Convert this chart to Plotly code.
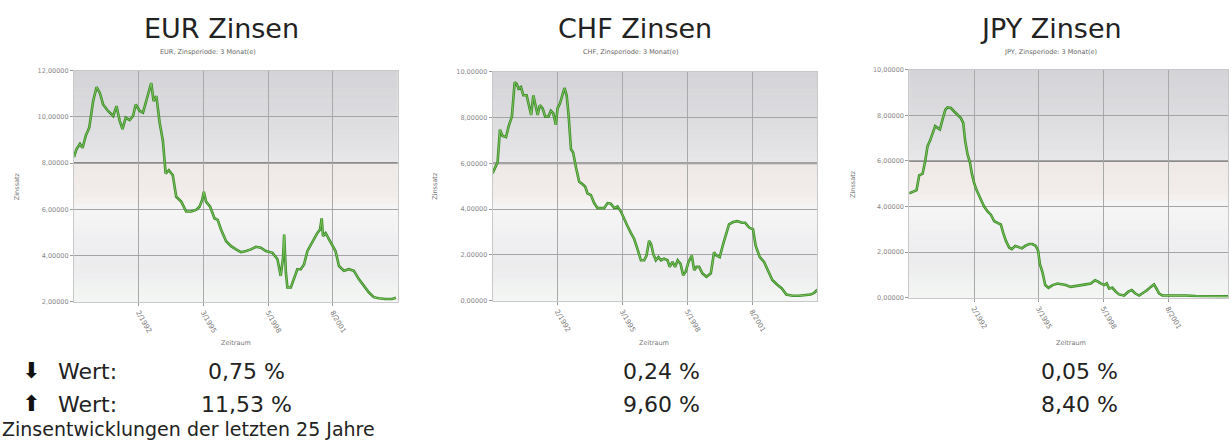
import plotly.graph_objects as go

W, H = 1229, 443

# ---------------- data ----------------
eur_t = [1989.00, 1989.12, 1989.28, 1989.40, 1989.55, 1989.71, 1989.89, 1990.05, 1990.20, 1990.35,
         1990.58, 1990.82, 1990.97, 1991.12, 1991.25, 1991.40, 1991.58, 1991.74, 1991.86, 1992.05,
         1992.20, 1992.38, 1992.58, 1992.69, 1992.82, 1992.97, 1993.12, 1993.25, 1993.40, 1993.58,
         1993.74, 1993.97, 1994.20, 1994.43, 1994.66, 1994.82, 1994.94, 1995.02, 1995.12, 1995.31,
         1995.51, 1995.66, 1995.82, 1996.05, 1996.28, 1996.51, 1996.74, 1996.97, 1997.20, 1997.43,
         1997.66, 1997.89, 1998.20, 1998.43, 1998.58, 1998.69, 1998.74, 1998.82, 1998.89, 1999.05,
         1999.20, 1999.35, 1999.51, 1999.66, 1999.82, 2000.05, 2000.28, 2000.40, 2000.48, 2000.54,
         2000.66, 2000.82, 2000.97, 2001.12, 2001.28, 2001.51, 2001.74, 2001.97, 2002.20, 2002.43,
         2002.66, 2002.89, 2003.12, 2003.43, 2003.74, 2003.92]
eur_v = [8.26, 8.61, 8.83, 8.66, 9.19, 9.54, 10.69, 11.29, 11.04, 10.54,
         10.26, 10.04, 10.47, 9.83, 9.47, 9.97, 9.86, 10.04, 10.54, 10.26,
         10.19, 10.76, 11.47, 10.69, 10.90, 9.76, 8.97, 7.54, 7.69, 7.47,
         6.54, 6.33, 5.90, 5.90, 5.97, 6.11, 6.40, 6.76, 6.33, 6.11,
         5.61, 5.54, 5.11, 4.61, 4.40, 4.26, 4.14, 4.19, 4.26, 4.37,
         4.33, 4.19, 4.11, 3.83, 3.11, 3.90, 4.90, 3.26, 2.61, 2.61,
         2.97, 3.40, 3.40, 3.61, 4.19, 4.61, 4.97, 5.11, 5.61, 4.83,
         4.97, 4.69, 4.47, 4.19, 3.54, 3.33, 3.40, 3.33, 2.97, 2.69,
         2.40, 2.19, 2.14, 2.11, 2.11, 2.16]

chf_t = [1989.00, 1989.12, 1989.23, 1989.34, 1989.46, 1989.62, 1989.74, 1989.89, 1990.02, 1990.11,
         1990.20, 1990.31, 1990.42, 1990.57, 1990.69, 1990.78, 1990.88, 1990.97, 1991.08, 1991.18,
         1991.31, 1991.43, 1991.58, 1991.69, 1991.80, 1991.92, 1992.00, 1992.11, 1992.23, 1992.32,
         1992.42, 1992.51, 1992.62, 1992.72, 1992.85, 1993.00, 1993.12, 1993.28, 1993.38, 1993.54,
         1993.69, 1993.85, 1994.00, 1994.15, 1994.31, 1994.46, 1994.62, 1994.77, 1994.92, 1995.08,
         1995.23, 1995.38, 1995.54, 1995.69, 1995.85, 1996.00, 1996.11, 1996.23, 1996.32, 1996.42,
         1996.54, 1996.66, 1996.78, 1996.92, 1997.08, 1997.18, 1997.31, 1997.43, 1997.55, 1997.68,
         1997.80, 1997.92, 1998.05, 1998.20, 1998.31, 1998.42, 1998.54, 1998.69, 1998.88, 1999.08,
         1999.23, 1999.34, 1999.49, 1999.65, 1999.80, 1999.92, 2000.11, 2000.31, 2000.51, 2000.66,
         2000.85, 2001.03, 2001.15, 2001.34, 2001.54, 2001.74, 2001.92, 2002.15, 2002.35, 2002.57,
         2002.85, 2003.15, 2003.46, 2003.69, 2003.85, 2004.00]
chf_v = [5.57, 5.83, 6.04, 7.47, 7.19, 7.14, 7.61, 8.04, 9.54, 9.47,
         9.26, 9.33, 8.97, 8.97, 8.54, 8.11, 8.97, 8.61, 8.11, 8.54,
         8.40, 8.04, 8.04, 8.29, 8.19, 7.69, 8.40, 8.61, 8.97, 9.29,
         8.97, 8.11, 6.61, 6.47, 5.83, 5.19, 5.11, 4.97, 4.69, 4.61,
         4.26, 4.04, 4.04, 4.04, 4.26, 4.23, 4.04, 4.11, 3.90, 3.54,
         3.26, 2.97, 2.69, 2.26, 1.76, 1.76, 1.97, 2.61, 2.47, 2.04,
         1.76, 1.90, 1.76, 1.83, 1.76, 1.47, 1.69, 1.47, 1.76, 1.61,
         1.11, 1.26, 1.69, 1.97, 1.33, 1.47, 1.47, 1.19, 1.04, 1.19,
         2.11, 1.97, 1.90, 2.47, 2.97, 3.33, 3.43, 3.47, 3.40, 3.40,
         3.19, 3.11, 2.40, 1.90, 1.69, 1.26, 0.90, 0.69, 0.54, 0.26,
         0.21, 0.21, 0.23, 0.26, 0.33, 0.47]

jpy_t = [1989.00, 1989.15, 1989.34, 1989.46, 1989.62, 1989.74, 1989.85, 1989.96, 1990.08, 1990.20,
         1990.31, 1990.42, 1990.54, 1990.67, 1990.77, 1990.93, 1991.08, 1991.24, 1991.39, 1991.50,
         1991.59, 1991.70, 1991.81, 1991.90, 1992.01, 1992.12, 1992.24, 1992.36, 1992.47, 1992.63,
         1992.78, 1992.94, 1993.09, 1993.24, 1993.35, 1993.48, 1993.63, 1993.75, 1993.91, 1994.06,
         1994.22, 1994.37, 1994.56, 1994.71, 1994.86, 1994.97, 1995.05, 1995.17, 1995.30, 1995.45,
         1995.64, 1995.87, 1996.07, 1996.25, 1996.48, 1996.72, 1996.95, 1997.18, 1997.41, 1997.61,
         1997.77, 1997.87, 1998.03, 1998.15, 1998.26, 1998.41, 1998.57, 1998.72, 1998.95, 1999.15,
         1999.31, 1999.46, 1999.65, 1999.83, 2000.03, 2000.19, 2000.34, 2000.45, 2000.57, 2000.73,
         2000.96, 2001.19, 2001.50, 2001.81, 2002.27, 2002.73, 2003.20, 2003.77, 2004.02]
jpy_v = [4.58, 4.65, 4.72, 5.37, 5.44, 6.01, 6.66, 6.88, 7.24, 7.53,
         7.45, 7.38, 7.81, 8.24, 8.35, 8.32, 8.17, 8.03, 7.88, 7.67,
         6.88, 6.30, 5.94, 5.44, 5.01, 4.72, 4.50, 4.22, 4.00, 3.78,
         3.64, 3.35, 3.28, 3.21, 2.85, 2.49, 2.20, 2.13, 2.27, 2.20,
         2.16, 2.27, 2.35, 2.35, 2.27, 2.06, 1.48, 1.12, 0.55, 0.43,
         0.55, 0.62, 0.58, 0.55, 0.47, 0.50, 0.55, 0.58, 0.62, 0.76,
         0.69, 0.62, 0.55, 0.62, 0.40, 0.43, 0.26, 0.14, 0.09, 0.26,
         0.33, 0.19, 0.09, 0.19, 0.33, 0.47, 0.58, 0.40, 0.19, 0.09,
         0.09, 0.09, 0.12, 0.09, 0.07, 0.07, 0.06, 0.06, 0.05]

x_tick_vals = [1992, 1995, 1998, 2001]
x_tick_text = ["2/1992", "3/1995", "5/1998", "8/2001"]
eur_y_ticks = [2, 4, 6, 8, 10, 12]
chf_y_ticks = [0, 2, 4, 6, 8, 10]
jpy_y_ticks = [0, 2, 4, 6, 8, 10]

titles = ["EUR Zinsen", "CHF Zinsen", "JPY Zinsen"]
subtitles = ["EUR, Zinsperiode: 3 Monat(e)", "CHF, Zinsperiode: 3 Monat(e)", "JPY, Zinsperiode: 3 Monat(e)"]
min_labels = ["0,75 %", "0,24 %", "0,05 %"]
max_labels = ["11,53 %", "9,60 %", "8,40 %"]
footer = "Zinsentwicklungen der letzten 25 Jahre"

# ---------------- layout geometry (pixels) ----------------
panels = [
    dict(t=eur_t, v=eur_v, yt=eur_y_ticks, x0=74, x1=398, top=68, bot=303, xr=[1989, 2004],
         cx=222, sub_cx=208, val_cx=247),
    dict(t=chf_t, v=chf_v, yt=chf_y_ticks, x0=493, x1=818, top=69, bot=302, xr=[1989, 2004],
         cx=636, sub_cx=632, val_cx=662),
    dict(t=jpy_t, v=jpy_v, yt=jpy_y_ticks, x0=910, x1=1229, top=67, bot=299, xr=[1989, 1989 + 15 * 319 / 324],
         cx=1052, sub_cx=1051, val_cx=1080),
]

def px(x):
    return x / W

def py(y):
    return 1 - y / H

FONT = "DejaVu Sans"
fig = go.Figure()
shapes = []
annotations = []

# gradient stops (fraction from bottom, rgb)
stops = [(0.0, (244, 246, 244)), (0.15, (236, 236, 238)), (0.28, (240, 240, 242)),
         (0.40, (246, 246, 246)), (0.45, (242, 238, 236)), (0.599, (238, 232, 230)),
         (0.601, (232, 232, 234)), (0.65, (228, 228, 231)), (0.8, (220, 220, 223)),
         (1.0, (212, 212, 215))]

def color_at(f):
    for (f0, c0), (f1, c1) in zip(stops[:-1], stops[1:]):
        if f0 <= f <= f1:
            a = 0 if f1 == f0 else (f - f0) / (f1 - f0)
            return "rgb(%d,%d,%d)" % tuple(round(c0[i] + (c1[i] - c0[i]) * a) for i in range(3))
    return "rgb(240,240,240)"

NB = 40
for i, p in enumerate(panels):
    sfx = "" if i == 0 else str(i + 1)
    xa, ya = "x" + sfx, "y" + sfx
    fig.add_trace(go.Scatter(x=p["t"], y=p["v"], mode="lines", xaxis=xa, yaxis=ya,
                             line=dict(color="#3b8a2a", width=2.6), hoverinfo="skip", showlegend=False))
    fig.add_trace(go.Scatter(x=p["t"], y=p["v"], mode="lines", xaxis=xa, yaxis=ya,
                             line=dict(color="#7cc45a", width=1.0), hoverinfo="skip", showlegend=False))
    fmt = [f"{v:.5f}".replace(".", ",") for v in p["yt"]]
    fig.update_layout(**{
        "xaxis" + sfx: dict(domain=[px(p["x0"]), px(p["x1"])], range=p["xr"], anchor=ya,
                            tickvals=x_tick_vals, ticktext=x_tick_text, tickangle=60,
                            tickfont=dict(size=7, color="#777", family=FONT),
                            showgrid=True, gridcolor="#a9a9a9", gridwidth=1,
                            showline=True, linecolor="#c8c8c8", mirror=True,
                            ticks="outside", ticklen=3, tickcolor="#999", zeroline=False),
        "yaxis" + sfx: dict(domain=[py(p["bot"]), py(p["top"])], range=[p["yt"][0], p["yt"][-1]],
                            anchor=xa, tickvals=p["yt"], ticktext=fmt,
                            tickfont=dict(size=6.5, color="#888", family=FONT),
                            showgrid=True, gridcolor="#a4a4a4", gridwidth=1,
                            showline=True, linecolor="#c8c8c8", mirror=True,
                            ticks="outside", ticklen=3, tickcolor="#999", zeroline=False),
    })
    # background gradient
    for k in range(NB):
        f0, f1 = k / NB, (k + 1) / NB
        shapes.append(dict(type="rect", xref=xa + " domain", yref=ya + " domain",
                           x0=0, x1=1, y0=f0, y1=f1 + 0.002, layer="below",
                           fillcolor=color_at((f0 + f1) / 2), line=dict(width=0)))
    # darker middle gridline
    mid = p["yt"][3]
    shapes.append(dict(type="line", xref=xa + " domain", yref=ya, x0=0, x1=1, y0=mid, y1=mid,
                       layer="below", line=dict(color="#8a8a8a", width=2)))
    # texts
    annotations += [
        dict(text=titles[i], x=px(p["cx"]), y=py(25), xref="paper", yref="paper", showarrow=False,
             font=dict(size=27, color="#222", family=FONT), xanchor="center", yanchor="middle"),
        dict(text=subtitles[i], x=px(p["sub_cx"]), y=py(49), xref="paper", yref="paper", showarrow=False,
             font=dict(size=6.5, color="#666", family=FONT), xanchor="center", yanchor="middle"),
        dict(text="Zinssatz", x=px(p["x0"] - 57), y=py((p["top"] + p["bot"]) / 2), xref="paper", yref="paper",
             showarrow=False, textangle=-90, font=dict(size=6.5, color="#777", family=FONT),
             xanchor="center", yanchor="middle"),
        dict(text="Zeitraum", x=px(p["x0"] + 162), y=py(345), xref="paper", yref="paper", showarrow=False,
             font=dict(size=6.5, color="#777", family=FONT), xanchor="center", yanchor="middle"),
        dict(text=min_labels[i], x=px(p["val_cx"]), y=py(374), xref="paper", yref="paper", showarrow=False,
             font=dict(size=22, color="#222", family=FONT), xanchor="center", yanchor="middle"),
        dict(text=max_labels[i], x=px(p["val_cx"]), y=py(408), xref="paper", yref="paper", showarrow=False,
             font=dict(size=22, color="#222", family=FONT), xanchor="center", yanchor="middle"),
    ]

annotations += [
    dict(text="⬇", x=px(31), y=py(373), xref="paper", yref="paper", showarrow=False,
         font=dict(size=22, color="#111", family=FONT), xanchor="center", yanchor="middle"),
    dict(text="⬆", x=px(31), y=py(407), xref="paper", yref="paper", showarrow=False,
         font=dict(size=22, color="#111", family=FONT), xanchor="center", yanchor="middle"),
    dict(text="Wert:", x=px(56), y=py(374), xref="paper", yref="paper", showarrow=False,
         font=dict(size=22, color="#222", family=FONT), xanchor="left", yanchor="middle"),
    dict(text="Wert:", x=px(56), y=py(408), xref="paper", yref="paper", showarrow=False,
         font=dict(size=22, color="#222", family=FONT), xanchor="left", yanchor="middle"),
    dict(text=footer, x=px(0), y=py(433), xref="paper", yref="paper", showarrow=False,
         font=dict(size=19, color="#222", family=FONT), xanchor="left", yanchor="middle"),
]

fig.update_layout(width=W, height=H, margin=dict(l=0, r=0, t=0, b=0),
                  paper_bgcolor="white", plot_bgcolor="#f0f0f0",
                  shapes=shapes, annotations=annotations, showlegend=False)

fig.write_html("out.html", config={"displayModeBar": False},
               post_script="document.body.style.margin='0';document.body.style.overflow='hidden';")
